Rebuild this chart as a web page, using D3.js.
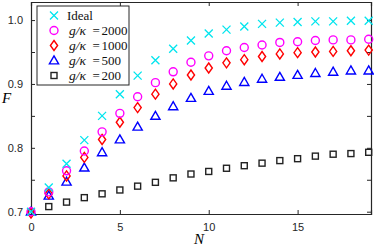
<!DOCTYPE html>
<html>
<head>
<meta charset="utf-8">
<script src="https://cdn.jsdelivr.net/npm/d3@7"></script>
<style>
  body { margin: 0; background: #fff; }
  text { font-family: "Liberation Sans", Arial, sans-serif; }
  .tex { font-family: "Liberation Serif", "DejaVu Serif", serif; }
</style>
</head>
<body>
<div id="chart"></div>
<script>
// photon number N
var N = d3.range(0, 20);

var ideal  = [0.700, 0.738, 0.775, 0.812, 0.850, 0.884, 0.913, 0.937, 0.955, 0.968,
              0.979, 0.985, 0.990, 0.994, 0.996, 0.997, 0.998, 0.998, 0.999, 0.999];
var g2000  = [0.700, 0.731, 0.764, 0.795, 0.825, 0.854, 0.880, 0.902, 0.919, 0.934,
              0.944, 0.952, 0.957, 0.961, 0.965, 0.966, 0.968, 0.969, 0.969, 0.970];
var g1000  = [0.698, 0.728, 0.756, 0.785, 0.813, 0.840, 0.863, 0.884, 0.900, 0.914,
              0.925, 0.933, 0.938, 0.943, 0.947, 0.949, 0.950, 0.951, 0.952, 0.953];
var g500   = [0.700, 0.725, 0.747, 0.769, 0.793, 0.813, 0.833, 0.850, 0.865, 0.878,
              0.889, 0.897, 0.903, 0.908, 0.911, 0.914, 0.917, 0.919, 0.921, 0.921];
var g200   = [0.700, 0.708, 0.715, 0.722, 0.728, 0.734, 0.740, 0.746, 0.753, 0.759,
              0.763, 0.768, 0.772, 0.776, 0.780, 0.783, 0.787, 0.790, 0.791, 0.793];

var seriesNames = ["Ideal", "g/\u03ba = 2000", "g/\u03ba = 1000", "g/\u03ba = 500", "g/\u03ba = 200"];
var xTicks = [0, 5, 10, 15];
var yTicks = [0.7, 0.75, 0.8, 0.85, 0.9, 0.95, 1.0];

var series = [
  {name: seriesNames[0], values: ideal, color: "#00e5ee", shape: "cross"},
  {name: seriesNames[1], values: g2000, color: "#ff00ff", shape: "circle"},
  {name: seriesNames[2], values: g1000, color: "#ff0000", shape: "diamond"},
  {name: seriesNames[3], values: g500,  color: "#0000ff", shape: "triangle"},
  {name: seriesNames[4], values: g200,  color: "#222222", shape: "square"}
];

var margin = {top: 2, right: 3, bottom: 33, left: 31};
var width = 374 - margin.left - margin.right,
    height = 247 - margin.top - margin.bottom;

var svg = d3.select("#chart").append("svg")
    .attr("width", 374)
    .attr("height", 247)
  .append("g")
    .attr("transform", "translate(" + margin.left + "," + margin.top + ")");

var x = d3.scaleLinear().domain([0, 19.13]).range([0, width]);
var y = d3.scaleLinear().domain([0.6964, 1.0283]).range([height, 0]);

// axes (ticks pointing inward, mirrored on top/right)
var tk = 4;
svg.append("g")
    .attr("transform", "translate(0," + height + ")")
    .call(d3.axisBottom(x).tickValues(xTicks).tickSize(-tk).tickPadding(9).tickFormat(d3.format("d")));
svg.append("g")
    .call(d3.axisTop(x).tickValues(xTicks).tickSize(-tk).tickFormat(""));
svg.append("g")
    .call(d3.axisLeft(y).tickValues(yTicks).tickSize(-tk).tickPadding(8)
      .tickFormat(function(d) { return Math.abs(d * 10 - Math.round(d * 10)) < 1e-6 ? d3.format(".1f")(d) : ""; }));
svg.append("g")
    .attr("transform", "translate(" + width + ",0)")
    .call(d3.axisRight(y).tickValues(yTicks).tickSize(-tk).tickFormat(""));

svg.selectAll(".domain").attr("stroke", "#262626").attr("stroke-width", 1.2);
svg.selectAll(".tick line").attr("stroke", "#262626");
svg.selectAll(".tick text").attr("font-size", 11).attr("fill", "#262626")
    .attr("font-family", "Liberation Sans, Arial, sans-serif");

// marker drawing
function marker(sel, shape, color) {
  if (shape === "cross") {
    sel.append("path").attr("d", "M-4,-4L4,4M-4,4L4,-4")
      .attr("stroke", color).attr("stroke-width", 1.3).attr("fill", "none");
  } else if (shape === "circle") {
    sel.append("circle").attr("r", 4)
      .attr("stroke", color).attr("stroke-width", 1.4).attr("fill", "none");
  } else if (shape === "diamond") {
    sel.append("path").attr("d", "M0,-5L3.6,0L0,5L-3.6,0Z")
      .attr("stroke", color).attr("stroke-width", 1.4).attr("fill", "none");
  } else if (shape === "triangle") {
    sel.append("path").attr("d", "M0,-4.6L4.6,3.4L-4.6,3.4Z")
      .attr("stroke", color).attr("stroke-width", 1.4).attr("fill", "none");
  } else if (shape === "square") {
    sel.append("rect").attr("x", -3).attr("y", -3).attr("width", 6).attr("height", 6)
      .attr("stroke", color).attr("stroke-width", 1.4).attr("fill", "none");
  }
}

// draw points, weakest first so Ideal sits on top
series.slice().reverse().forEach(function(s) {
  var g = svg.append("g");
  s.values.forEach(function(v, i) {
    var m = g.append("g").attr("transform", "translate(" + x(N[i]) + "," + y(v) + ")");
    marker(m, s.shape, s.color);
  });
});

// legend
var legend = svg.append("g").attr("transform", "translate(6,4)");
legend.append("rect").attr("width", 92).attr("height", 79)
    .attr("fill", "#fff").attr("stroke", "#262626").attr("stroke-width", 1);
series.forEach(function(s, i) {
  var row = legend.append("g").attr("transform", "translate(17," + (9.5 + i * 15) + ")");
  marker(row, s.shape, s.color);
  if (i === 0) {
    row.append("text").attr("class", "tex").attr("x", 13).attr("y", 4.5)
      .attr("font-size", 13).attr("fill", "#111").text(s.name);
  } else {
    // math-style spacing like a LaTeX label
    var parts = s.name.split(" = ");
    row.append("text").attr("class", "tex").attr("x", 15).attr("y", 4.5)
      .attr("font-size", 13.5).attr("font-style", "italic").attr("fill", "#111").text(parts[0]);
    row.append("text").attr("class", "tex").attr("x", 38.5).attr("y", 4.5)
      .attr("font-size", 13).attr("fill", "#111").text("=");
    row.append("text").attr("class", "tex").attr("x", 47.5).attr("y", 4.5)
      .attr("font-size", 13).attr("fill", "#111").text(parts[1]);
  }
});

// axis labels
svg.append("text").attr("class", "tex")
    .attr("x", x(9.45)).attr("y", height + 30)
    .attr("text-anchor", "middle").attr("font-style", "italic").attr("font-size", 15)
    .text("N");
svg.append("text").attr("class", "tex")
    .attr("x", -29).attr("y", y(0.878) + 5)
    .attr("font-style", "italic").attr("font-size", 15)
    .text("F");
</script>
</body>
</html>
